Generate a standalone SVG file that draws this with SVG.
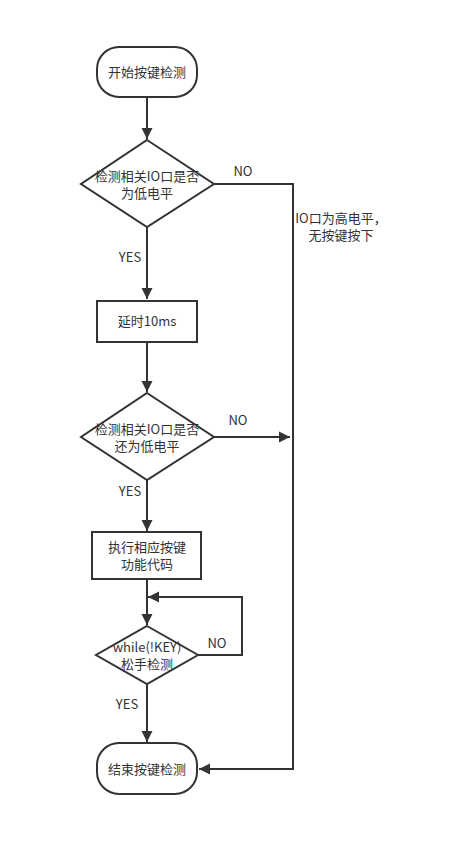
<svg xmlns="http://www.w3.org/2000/svg" width="459" height="856" viewBox="0 0 459 856">
<style>
.shape{fill:#fff;stroke:#333;stroke-width:2}
.edge{fill:none;stroke:#333;stroke-width:2}
text{font-family:"Noto Sans CJK SC","Liberation Sans",sans-serif;font-size:13px;fill:#333;text-anchor:middle}
.lbl{font-size:13px}
</style>
<defs>
<marker id="arr" markerUnits="userSpaceOnUse" markerWidth="12" markerHeight="12" viewBox="0 0 12 12" refX="11" refY="6" orient="auto">
<path d="M0,0.5 L11,6 L0,11.5 Z" fill="#333"/>
</marker>
</defs>
<rect width="459" height="856" fill="#fff"/>
<g id="connectors">
<path class="edge" d="M147,97 V139" marker-end="url(#arr)"/>
<path class="edge" d="M147,227 V299" marker-end="url(#arr)"/>
<path class="edge" d="M147,342 V392" marker-end="url(#arr)"/>
<path class="edge" d="M147,480 V531" marker-end="url(#arr)"/>
<path class="edge" d="M147,579 V625" marker-end="url(#arr)"/>
<path class="edge" d="M147,684 V742" marker-end="url(#arr)"/>
<path class="edge" d="M214,184 H293 V769 H199" marker-end="url(#arr)"/>
<path class="edge" d="M214,437 H290" marker-end="url(#arr)"/>
<path class="edge" d="M198,655 H242 V597 H148" marker-end="url(#arr)"/>
<text x="243" y="176">NO</text>
<text x="130" y="262">YES</text>
<text x="238" y="425">NO</text>
<text x="130" y="496">YES</text>
<text x="217" y="648">NO</text>
<text x="127" y="709">YES</text>
<text x="341" y="223">IO口为高电平，</text>
<text x="341" y="240">无按键按下</text>
</g>
<g id="start">
<rect class="shape" x="97" y="47" width="100" height="50" rx="22" ry="22"/>
<text x="147" y="77">开始按键检测</text>
</g>
<g id="check1">
<path class="shape" d="M147,140 L214,184 L147,227 L81,184 Z"/>
<text x="147" y="181">检测相关IO口是否</text>
<text x="147" y="198">为低电平</text>
</g>
<g id="delay">
<rect class="shape" x="97" y="301" width="100" height="41"/>
<text x="147" y="326">延时10ms</text>
</g>
<g id="check2">
<path class="shape" d="M147,393 L214,437 L147,480 L81,437 Z"/>
<text x="147" y="434">检测相关IO口是否</text>
<text x="147" y="451">还为低电平</text>
</g>
<g id="exec">
<rect class="shape" x="92" y="532" width="109" height="47"/>
<text x="147" y="552">执行相应按键</text>
<text x="147" y="569">功能代码</text>
</g>
<g id="release">
<path class="shape" d="M147,626 L198,655 L147,684 L96,655 Z"/>
<text x="147" y="652">while(!KEY)</text>
<text x="147" y="669">松手检测</text>
</g>
<g id="end">
<rect class="shape" x="97" y="743" width="100" height="51" rx="22" ry="22"/>
<text x="147" y="774">结束按键检测</text>
</g>
</svg>
